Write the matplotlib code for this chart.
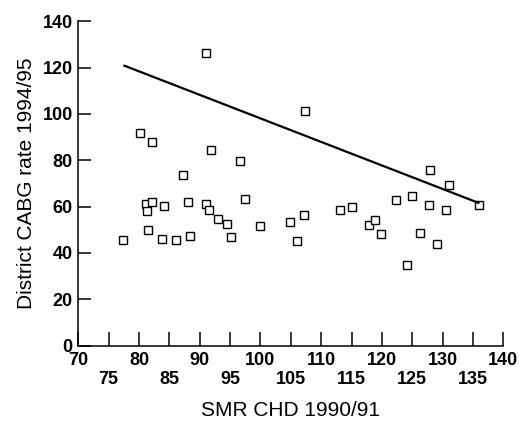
import numpy as np
import matplotlib
matplotlib.use("Agg")
import matplotlib.pyplot as plt
from matplotlib.ticker import FixedLocator, FixedFormatter

plt.rcParams['font.family'] = ['Liberation Sans', 'DejaVu Sans']

# data (SMR CHD vs CABG rate)
smr = [77.4, 81.1, 82.2, 81.3, 81.4, 84.1, 83.8, 86.1, 88.0, 88.4,
       91.1, 91.6, 93.0, 94.5, 95.1, 97.4, 99.9, 104.8, 106.1, 107.2,
       113.1, 115.0, 117.8, 118.8, 119.9, 122.4, 124.2, 125.0, 126.3, 127.7,
       129.1, 130.6, 131.1, 136.0,
       91.1, 107.4, 80.2, 82.2, 91.9, 96.7, 87.2, 128.0]
cabg = [45.7, 61.1, 61.8, 58.0, 49.7, 60.2, 46.0, 45.5, 61.9, 47.4,
        61.1, 58.3, 54.6, 52.6, 46.8, 63.4, 51.6, 53.3, 45.0, 56.3,
        58.6, 59.6, 52.0, 54.2, 48.0, 62.8, 34.9, 64.5, 48.6, 60.8,
        43.7, 58.3, 69.3, 60.8,
        126.1, 101.2, 91.6, 88.0, 84.4, 79.6, 73.7, 75.6]

fit_x = [77.6, 135.9]
fit_y = [120.8, 61.6]

major_x = [70, 80, 90, 100, 110, 120, 130, 140]
minor_x = [75, 85, 95, 105, 115, 125, 135]
y_ticks = [0, 20, 40, 60, 80, 100, 120, 140]

fig = plt.figure(figsize=(5.19, 4.21), dpi=100)
ax = fig.add_axes([0.1509, 0.1793, 0.9697 - 0.1509, 0.9496 - 0.1793])

ax.plot(smr, cabg, linestyle='none', marker='s', markersize=5.2,
        markerfacecolor='white', markeredgecolor='black', markeredgewidth=1.0)
ax.plot(fit_x, fit_y, color='black', linewidth=1.6)

ax.set_xlim(70, 140)
ax.set_ylim(0, 140)
ax.spines['top'].set_visible(False)
ax.spines['right'].set_visible(False)
ax.spines['left'].set_linewidth(1.1)
ax.spines['bottom'].set_linewidth(1.1)

ax.xaxis.set_major_locator(FixedLocator(major_x))
ax.xaxis.set_major_formatter(FixedFormatter([str(v) for v in major_x]))
ax.xaxis.set_minor_locator(FixedLocator(minor_x))
ax.xaxis.set_minor_formatter(FixedFormatter([str(v) for v in minor_x]))
ax.set_yticks(y_ticks)
ax.set_yticklabels([str(v) for v in y_ticks])

ax.tick_params(axis='x', which='major', direction='in', length=10, width=1.1,
               pad=5, labelsize=13)
ax.tick_params(axis='x', which='minor', direction='in', length=10, width=1.1,
               pad=18, labelsize=13)
ax.tick_params(axis='y', direction='in', length=9, width=1.1, pad=4, labelsize=13)
for lab in ax.get_xticklabels(which='both') + ax.get_yticklabels():
    lab.set_fontweight('bold')

ax.set_xlabel("SMR CHD 1990/91", fontsize=15, labelpad=10)
ax.set_ylabel("District CABG rate 1994/95", fontsize=15, labelpad=5)

fig.savefig("out.png", dpi=100)
